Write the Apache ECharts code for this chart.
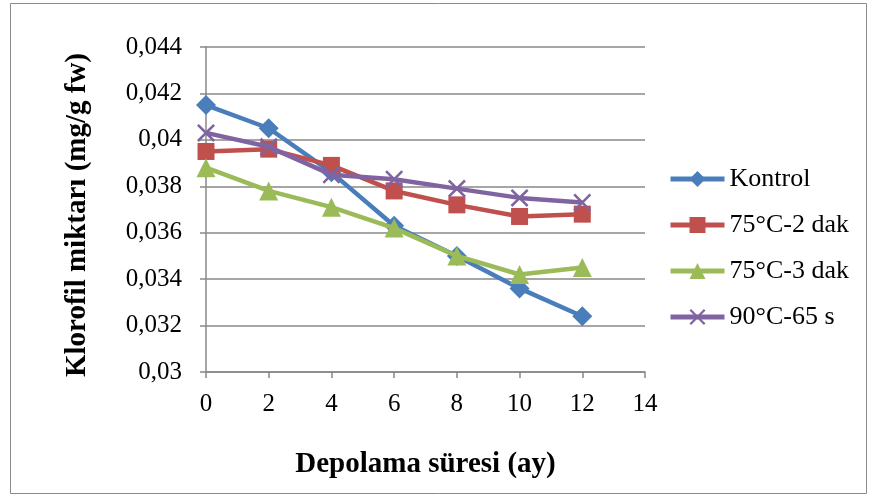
<!DOCTYPE html>
<html><head><meta charset="utf-8">
<script src="https://cdn.jsdelivr.net/npm/echarts@6/dist/echarts.min.js"></script>
<style>html,body{margin:0;padding:0;background:#fff}#c{width:870px;height:499px}</style>
</head><body><div id="c"></div>
<script>
const months = [0, 2, 4, 6, 8, 10, 12];
const kontrol = [0.0415, 0.0405, 0.0386, 0.0363, 0.0350, 0.0336, 0.0324];
const t75_2 = [0.0395, 0.0396, 0.0389, 0.0378, 0.0372, 0.0367, 0.0368];
const t75_3 = [0.0388, 0.0378, 0.0371, 0.0362, 0.0350, 0.0342, 0.0345];
const t90_65 = [0.0403, 0.0397, 0.0385, 0.0383, 0.0379, 0.0375, 0.0373];
const seriesNames = ['Kontrol', '75°C-2 dak', '75°C-3 dak', '90°C-65 s'];
const xTitle = 'Depolama süresi (ay)';
const yTitle = 'Klorofil miktarı (mg/g fw)';

const pair = arr => months.map((m, i) => [m, arr[i]]);
const font = 'Liberation Serif, Times New Roman, serif';
const crossPath = 'path://M0,1 L1,0 L5,4 L9,0 L10,1 L6,5 L10,9 L9,10 L5,6 L1,10 L0,9 L4,5 Z';
const cfg = [
  {data: kontrol, color: '#4A7EBB', symbol: 'diamond', size: 20},
  {data: t75_2, color: '#C0504D', symbol: 'rect', size: 17},
  {data: t75_3, color: '#9BBB59', symbol: 'triangle', size: 19},
  {data: t90_65, color: '#8064A2', symbol: crossPath, size: 18}
];
const chart = echarts.init(document.getElementById('c'), null, {renderer: 'canvas'});
chart.setOption({
  animation: false,
  backgroundColor: '#fff',
  graphic: [
    {type: 'rect', shape: {x: 10.5, y: 3.5, width: 856, height: 490}, style: {fill: 'none', stroke: '#8a8a8a', lineWidth: 1}},
    {type: 'text', x: 78, y: 215, rotation: Math.PI / 2,
     style: {text: yTitle, fontFamily: font, fontSize: 29, fontWeight: 'bold', fill: '#000', align: 'center', verticalAlign: 'middle'}}
  ],
  grid: {left: 206, right: 225, top: 47, bottom: 127},
  legend: {
    orient: 'vertical', left: 668, top: 166, padding: 0, itemGap: 20, itemWidth: 54, itemHeight: 20,
    lineStyle: {width: 5},
    textStyle: {fontFamily: font, fontSize: 26, color: '#000'},
    data: seriesNames
  },
  xAxis: {
    type: 'value', min: 0, max: 14, interval: 2,
    name: xTitle, nameLocation: 'middle', nameGap: 78,
    nameTextStyle: {fontFamily: font, fontSize: 29, fontWeight: 'bold', color: '#000'},
    axisLine: {lineStyle: {color: '#888', width: 1.5}},
    axisTick: {show: true, length: 6, lineStyle: {color: '#888', width: 1.5}},
    axisLabel: {fontFamily: font, fontSize: 25, color: '#000', margin: 20},
    splitLine: {show: false}
  },
  yAxis: {
    type: 'value', min: 0.03, max: 0.044, interval: 0.002,
    axisLine: {show: true, lineStyle: {color: '#888', width: 1.5}},
    axisTick: {show: true, length: 6, lineStyle: {color: '#888', width: 1.5}},
    axisLabel: {fontFamily: font, fontSize: 25, color: '#000', margin: 24,
      formatter: v => parseFloat(v.toFixed(3)).toString().replace('.', ',')},
    splitLine: {show: true, lineStyle: {color: '#888', width: 1.5}}
  },
  series: cfg.map((c, i) => ({
    name: seriesNames[i], type: 'line', data: pair(c.data),
    symbol: c.symbol, symbolSize: c.size, showAllSymbol: true,
    lineStyle: {color: c.color, width: 4.5},
    itemStyle: {color: c.color},
    z: 2 + i
  }))
});
</script></body></html>
